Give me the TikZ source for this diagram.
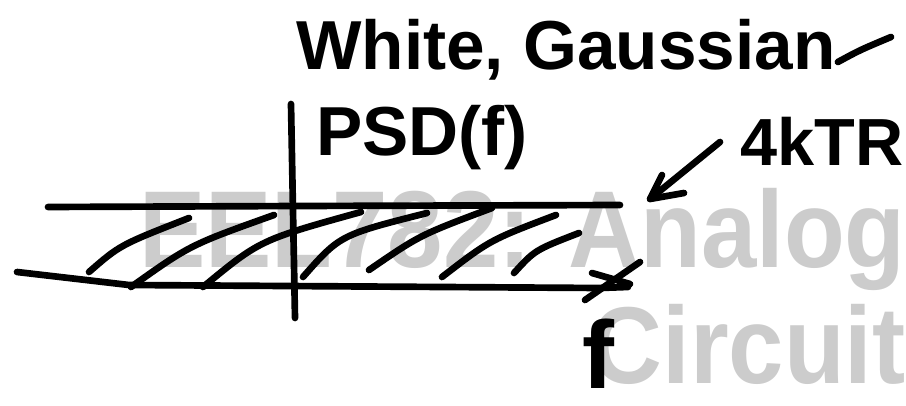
\documentclass[tikz,border=0pt]{standalone}
\usepackage{fontspec}
\setmainfont{Liberation Sans}
\begin{document}
\begin{tikzpicture}[x=0.75pt,y=-0.75pt,
  pen/.style={line width=5pt,line cap=round,line join=round,draw=black},
  hand/.style={inner sep=0pt,text=black},
  wm/.style={inner sep=0pt,text=black!20,font=\bfseries\fontsize{82}{82}\selectfont}]
\useasboundingbox (0,0) rectangle (906,406);
% watermark
\node[wm,anchor=base east] (wm1) at (906,267) {\scalebox{0.91}[1]{EEL782: Analog}};
\node[wm,anchor=base east] (wm2) at (906,383) {\scalebox{0.91}[1]{Circuit}};
% axes
\coordinate (vtop) at (291,104);
\coordinate (vbot) at (295,318);
\draw[pen] (vtop) -- (vbot);
\coordinate (hl) at (17,272);
\coordinate (hr) at (628,287);
\draw[pen] (hl) -- (129,285) -- (600,288) -- (hr);
\draw[pen] (592,273) -- (630,284);
\draw[pen] (585,300) -- (640,262);
% level line
\coordinate (ll) at (48,207);
\coordinate (lr) at (620,205);
\draw[pen] (ll) -- (300,206) -- (lr);
% hatching
\draw[pen] (89,272) .. controls (120,245) .. (189,218);
\draw[pen] (131,287) .. controls (190,245) .. (274,215);
\draw[pen] (203,287) .. controls (260,240) .. (361,212);
\draw[pen] (303,277) .. controls (340,235) .. (427,213);
\draw[pen] (369,270) .. controls (420,235) .. (492,208);
\draw[pen] (442,277) .. controls (490,240) .. (556,215);
\draw[pen] (514,273) .. controls (535,250) .. (579,233);
% labels
\node[hand,anchor=base west,font=\bfseries\fontsize{52}{52}\selectfont] (title) at (296,70) {White, Gaussian};
\draw[pen] (title.base east) ++(2,-8) .. controls (860,50) .. (891,37);
\node[hand,anchor=base west,font=\bfseries\fontsize{52}{52}\selectfont] (psd) at (316,156) {PSD(f)};
\node[hand,anchor=base west,font=\bfseries\fontsize{50}{50}\selectfont] (ktr) at (740,166) {4kTR};
\node[hand,anchor=base,font=\bfseries\fontsize{72}{72}\selectfont] (f) at (598,388) {f};
% arrow to level
\coordinate (as) at (720,142);
\coordinate (ae) at (650,199);
\draw[pen] (as) -- (ae);
\draw[pen] (662,175) -- (ae) -- (684,193);
\end{tikzpicture}
\end{document}
